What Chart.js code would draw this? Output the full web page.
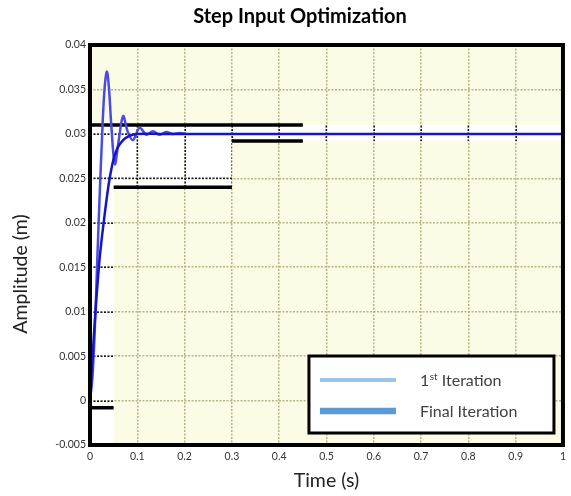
<!DOCTYPE html>
<html><head><meta charset="utf-8">
<script src="https://cdn.jsdelivr.net/npm/chart.js@4.4.0/dist/chart.umd.min.js"></script>
<style>html,body{margin:0;padding:0;background:#fff;}</style>
</head><body>
<canvas id="c" width="571" height="496"></canvas>
<script>
// ---- data ----
const firstT = [0, 0.005, 0.010, 0.015, 0.020, 0.025, 0.030, 0.0355, 0.040, 0.045, 0.0525, 0.060, 0.070, 0.080, 0.091, 0.105, 0.119, 0.133, 0.147, 0.161, 0.175, 0.190, 0.200];
const firstV = [0, 0.0025, 0.0078, 0.0152, 0.0225, 0.0290, 0.0345, 0.0370, 0.0352, 0.0310, 0.0266, 0.0290, 0.0320, 0.0302, 0.0293, 0.0307, 0.0299, 0.0303, 0.0299, 0.0302, 0.0300, 0.0301, 0.0300];
const finalT = [0, 0.005, 0.010, 0.015, 0.020, 0.025, 0.030, 0.035, 0.040, 0.045, 0.050, 0.055, 0.060, 0.070, 0.080, 0.090, 0.100, 0.150, 1.0];
const finalV = [0, 0.0045, 0.0088, 0.0125, 0.0158, 0.0183, 0.0205, 0.0226, 0.0245, 0.0260, 0.0272, 0.0280, 0.0286, 0.0293, 0.0297, 0.0299, 0.0300, 0.0300, 0.0300];
const upperStart = [0];
const upperEnd = [0.45];
const upperY = [0.031];
const lowerStart = [0, 0.05, 0.30];
const lowerEnd = [0.05, 0.30, 0.45];
const lowerY = [-0.0008, 0.024, 0.0292];
const seriesLabels = ['1st Iteration', 'Final Iteration'];
const legendColors = ['#9dc3e6', '#5b9bd5'];
const xRange = [0, 1, 0.1];
const yRange = [-0.005, 0.04, 0.005];

function fmt(v) { return String(Number(v.toFixed(4))); }
function pts(xs, ys) { return xs.map((x, i) => ({x: x, y: ys[i]})); }
function segs(s, e, y) {
  const out = [];
  s.forEach((v, i) => { out.push({x: v, y: y[i]}, {x: e[i], y: y[i]}, {x: e[i], y: null}); });
  return out;
}

// white (in-spec) region outline derived from the bounds
function whitePath(ctx, xs, ys) {
  const poly = [
    [xRange[0], yRange[0]], [xRange[0], upperY[0]], [xRange[1], upperY[0]],
    [xRange[1], lowerY[2]], [lowerStart[2], lowerY[2]], [lowerStart[2], lowerY[1]],
    [lowerStart[1], lowerY[1]], [lowerStart[1], yRange[0]]
  ];
  poly.forEach((p, i) => {
    const px = xs.getPixelForValue(p[0]), py = ys.getPixelForValue(p[1]);
    if (i === 0) ctx.moveTo(px, py); else ctx.lineTo(px, py);
  });
  ctx.closePath();
}

const deco = {
  id: 'deco',
  beforeDraw(chart) {
    const {ctx, chartArea: a, scales: {x, y}} = chart;
    ctx.save();
    ctx.fillStyle = '#fbfbe6';
    ctx.fillRect(a.left, a.top, a.right - a.left, a.bottom - a.top);
    ctx.beginPath(); whitePath(ctx, x, y);
    ctx.fillStyle = '#ffffff'; ctx.fill();
    ctx.restore();
  },
  beforeDatasetsDraw(chart) {
    const {ctx, chartArea: a, scales: {x, y}} = chart;
    ctx.save();
    ctx.beginPath(); whitePath(ctx, x, y); ctx.clip();
    ctx.strokeStyle = '#1a1a1a'; ctx.lineWidth = 1.5; ctx.setLineDash([2, 1.5]);
    x.ticks.forEach(t => { const p = Math.round(x.getPixelForValue(t.value)) + 0.25;
      ctx.beginPath(); ctx.moveTo(p, a.top); ctx.lineTo(p, a.bottom); ctx.stroke(); });
    y.ticks.forEach(t => { const p = Math.round(y.getPixelForValue(t.value)) + 0.25;
      ctx.beginPath(); ctx.moveTo(a.left, p); ctx.lineTo(a.right, p); ctx.stroke(); });
    ctx.restore();
  },
  afterDraw(chart) {
    const {ctx, chartArea: a} = chart;
    ctx.save();
    // plot frame
    ctx.strokeStyle = '#000'; ctx.lineWidth = 4;
    ctx.strokeRect(a.left, a.top, a.right - a.left, a.bottom - a.top);
    // legend box
    const lx = a.right - 254, ly = a.bottom - 89, lw = 245, lh = 77;
    ctx.fillStyle = '#fff'; ctx.fillRect(lx, ly, lw, lh);
    ctx.lineWidth = 3; ctx.strokeRect(lx, ly, lw, lh);
    const widths = [4, 6.5], rows = [ly + 24, ly + 55];
    rows.forEach((ry, i) => {
      ctx.strokeStyle = legendColors[i]; ctx.lineWidth = widths[i];
      ctx.beginPath(); ctx.moveTo(lx + 11, ry); ctx.lineTo(lx + 87, ry); ctx.stroke();
    });
    ctx.fillStyle = '#404040'; ctx.textBaseline = 'alphabetic'; ctx.textAlign = 'left';
    const tx = lx + 111;
    // "1st Iteration" with superscript
    const m = seriesLabels[0].match(/^(\d+)(st|nd|rd|th)(.*)$/);
    ctx.font = '16px Lato';
    let cx = tx;
    ctx.fillText(m[1], cx, rows[0] + 6); cx += ctx.measureText(m[1]).width;
    ctx.font = '10px Lato';
    ctx.fillText(m[2], cx + 0.5, rows[0] - 0.5); cx += ctx.measureText(m[2]).width + 0.5;
    ctx.font = '16px Lato';
    ctx.fillText(m[3], cx, rows[0] + 6);
    ctx.fillText(seriesLabels[1], tx, rows[1] + 6);
    // y axis title
    ctx.translate(21, 274); ctx.rotate(-Math.PI / 2);
    ctx.font = '19.5px Lato'; ctx.fillStyle = '#222'; ctx.textAlign = 'center'; ctx.textBaseline = 'middle';
    ctx.fillText('Amplitude (m)', 0, 0);
    ctx.restore();
  }
};

new Chart(document.getElementById('c'), {
  type: 'line',
  data: {
    datasets: [
      { label: seriesLabels[1], data: pts(finalT, finalV), borderColor: '#1515c4', borderWidth: 2.5, pointRadius: 0, tension: 0.35, fill: false },
      { label: seriesLabels[0], data: pts(firstT, firstV), borderColor: '#4a4ae4', borderWidth: 2.5, pointRadius: 0, tension: 0.35, fill: false },
      { label: 'upper', data: segs(upperStart, upperEnd, upperY), borderColor: '#000', borderWidth: 3.5, pointRadius: 0, spanGaps: false, tension: 0 },
      { label: 'lower', data: segs(lowerStart, lowerEnd, lowerY), borderColor: '#000', borderWidth: 3.5, pointRadius: 0, spanGaps: false, tension: 0 }
    ]
  },
  options: {
    responsive: false, animation: false, devicePixelRatio: 1,
    layout: { padding: { left: 33, right: 4, top: 0, bottom: 0 } },
    plugins: {
      legend: { display: false }, tooltip: { enabled: false },
      title: { display: true, text: 'Step Input Optimization', color: '#000',
        font: { family: 'Lato', size: 20, weight: 'bold' }, padding: { top: 5, bottom: 16 } }
    },
    scales: {
      x: { type: 'linear', min: xRange[0], max: xRange[1],
        ticks: { stepSize: xRange[2], callback: v => fmt(v), color: '#333', font: { family: 'Lato', size: 10.5 }, padding: 5, maxRotation: 0, autoSkip: false },
        grid: { color: '#b5b585', lineWidth: 1.5, drawTicks: false },
        border: { display: false, dash: [2, 1.5] },
        title: { display: true, text: 'Time (s)', color: '#222', font: { family: 'Lato', size: 19.5 }, padding: { top: 0, bottom: 4 } },
        afterFit(s) { s.height = 51; } },
      y: { type: 'linear', min: yRange[0], max: yRange[1],
        ticks: { stepSize: yRange[2], callback: v => fmt(v), color: '#333', font: { family: 'Lato', size: 10.5 }, padding: 4, autoSkip: false },
        grid: { color: '#b5b585', lineWidth: 1.5, drawTicks: false },
        border: { display: false, dash: [2, 1.5] },
        afterFit(s) { s.width = 57; } }
    }
  },
  plugins: [deco]
});
</script>
</body></html>
